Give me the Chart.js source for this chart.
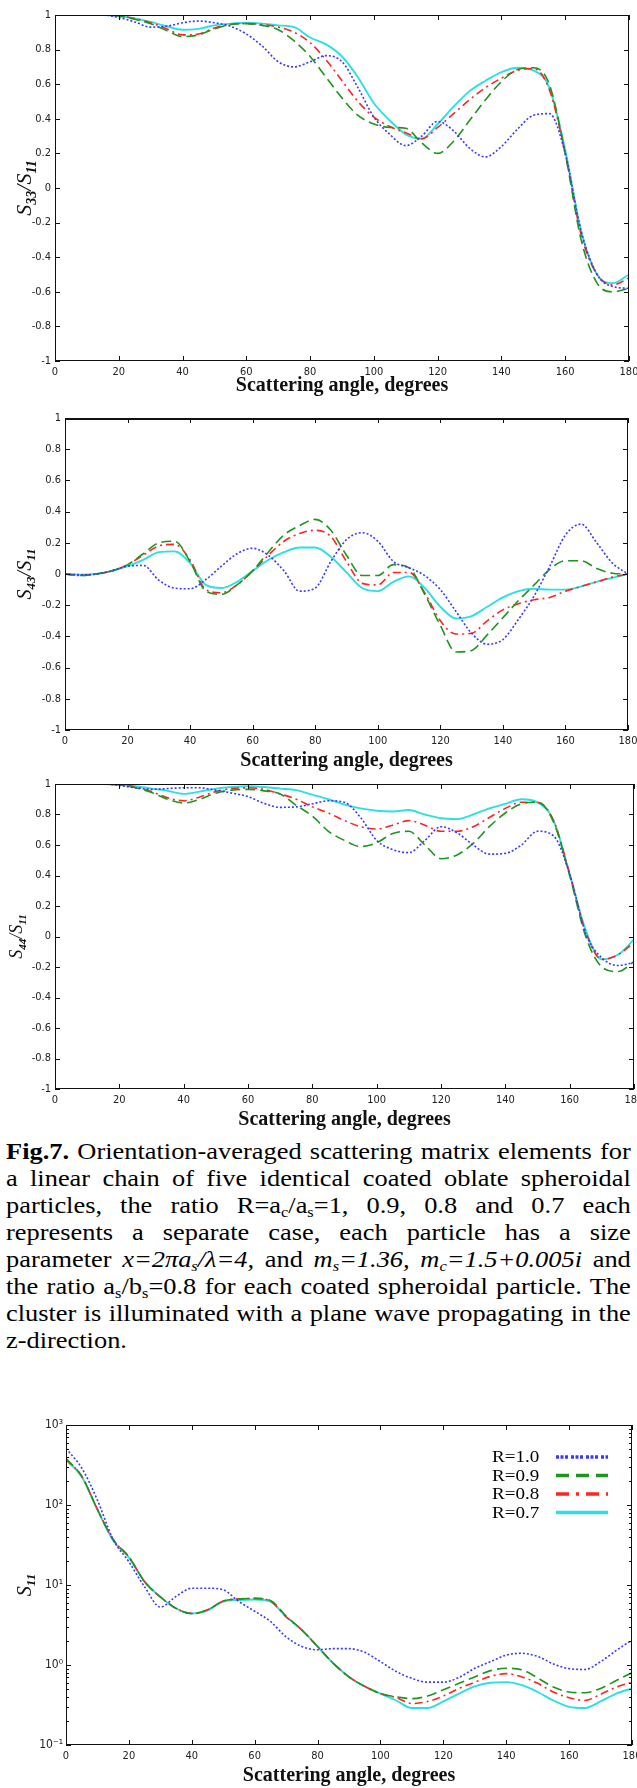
<!DOCTYPE html>
<html>
<head>
<meta charset="utf-8">
<script src="https://cdn.jsdelivr.net/npm/chart.js@4.4.1/dist/chart.umd.min.js"></script>
<style>
body{margin:0;background:#fff;width:637px;height:1788px;overflow:hidden;position:relative}
canvas{position:absolute;left:0}
#caption{position:absolute;left:6px;top:1138px;width:568px;transform:scaleX(1.1);transform-origin:0 0;
  font-family:"Liberation Serif","Times New Roman",serif;font-size:24px;line-height:27px;color:#000}
#caption div{text-align:justify;text-align-last:justify}
#caption div.last{text-align-last:left}
sub{font-size:62%;vertical-align:-0.25em;line-height:0}
</style>
</head>
<body>
<canvas id="c33" width="637" height="398" style="top:0px"></canvas>
<canvas id="c43" width="637" height="375" style="top:398px"></canvas>
<canvas id="c44" width="637" height="357" style="top:775px"></canvas>
<div id="caption">
<div><b>Fig.7.</b> Orientation-averaged scattering matrix elements for</div>
<div>a linear chain of five identical coated oblate spheroidal</div>
<div>particles, the ratio R=a<sub>c</sub>/a<sub>s</sub>=1, 0.9, 0.8 and 0.7 each</div>
<div>represents a separate case, each particle has a size</div>
<div>parameter <i>x=2πa<sub>s</sub>/λ=4,</i> and <i>m<sub>s</sub>=1.36, m<sub>c</sub>=1.5+0.005i</i> and</div>
<div>the ratio a<sub>s</sub>/b<sub>s</sub>=0.8 for each coated spheroidal particle. The</div>
<div>cluster is illuminated with a plane wave propagating in the</div>
<div class="last">z-direction.</div>
</div>
<canvas id="c11" width="637" height="385" style="top:1403px"></canvas>
<script>
// scattering angles (degrees)
var angles = [0,5,10,15,20,25,30,35,40,45,50,55,60,65,70,75,80,85,90,95,100,105,110,115,120,125,130,135,140,145,150,155,160,165,170,175,180];
var seriesLabels = ['R=1.0', 'R=0.9', 'R=0.8', 'R=0.7'];

// S33/S11
var s33_r10 = [1,1,1,1,0.985,0.96,0.93,0.935,0.955,0.965,0.955,0.935,0.89,0.82,0.73,0.70,0.73,0.765,0.73,0.58,0.41,0.31,0.245,0.30,0.385,0.33,0.23,0.18,0.24,0.34,0.42,0.43,0.2,-0.25,-0.5,-0.57,-0.58];
var s33_r09 = [1,1,1,1,0.995,0.975,0.95,0.91,0.875,0.885,0.92,0.945,0.95,0.94,0.915,0.85,0.76,0.64,0.52,0.42,0.37,0.35,0.345,0.26,0.2,0.27,0.39,0.51,0.615,0.685,0.695,0.6,0.2,-0.3,-0.55,-0.6,-0.58];
var s33_r08 = [1,1,1,1,0.995,0.98,0.955,0.92,0.885,0.89,0.925,0.945,0.95,0.945,0.93,0.90,0.84,0.74,0.62,0.50,0.41,0.355,0.32,0.285,0.35,0.43,0.51,0.58,0.635,0.68,0.69,0.57,0.2,-0.27,-0.5,-0.56,-0.52];
var s33_r07 = [1,1,1,1,0.995,0.98,0.96,0.935,0.915,0.92,0.94,0.95,0.955,0.95,0.94,0.93,0.87,0.83,0.76,0.64,0.49,0.39,0.31,0.285,0.37,0.47,0.56,0.62,0.67,0.695,0.68,0.58,0.22,-0.25,-0.5,-0.55,-0.5];

// S43/S11
var s43_r10 = [0,-0.005,0,0.02,0.05,0.055,-0.04,-0.09,-0.095,-0.036,0.05,0.13,0.165,0.12,0.02,-0.11,-0.09,0.08,0.22,0.265,0.21,0.08,0.04,-0.01,-0.1,-0.24,-0.38,-0.45,-0.42,-0.29,-0.14,0.05,0.25,0.32,0.2,0.07,0];
var s43_r09 = [0,-0.01,0,0.02,0.06,0.13,0.2,0.21,0.08,-0.11,-0.13,-0.07,0.02,0.14,0.25,0.31,0.35,0.28,0.12,-0.01,-0.01,0.06,0.04,-0.13,-0.33,-0.5,-0.49,-0.39,-0.28,-0.17,-0.07,0.03,0.085,0.085,0.035,0.005,0];
var s43_r08 = [0,-0.01,0,0.02,0.06,0.12,0.18,0.19,0.09,-0.1,-0.12,-0.07,0.02,0.12,0.21,0.26,0.28,0.24,0.08,-0.06,-0.07,0.01,0.01,-0.12,-0.3,-0.385,-0.38,-0.3,-0.23,-0.19,-0.165,-0.15,-0.11,-0.08,-0.05,-0.02,0];
var s43_r07 = [0,-0.005,0,0.02,0.05,0.09,0.14,0.145,0.07,-0.07,-0.09,-0.05,0.02,0.09,0.14,0.17,0.17,0.11,0.01,-0.09,-0.11,-0.05,-0.015,-0.09,-0.21,-0.285,-0.27,-0.21,-0.15,-0.11,-0.095,-0.1,-0.1,-0.08,-0.05,-0.025,0];

// S44/S11
var s44_r10 = [1,1,1,1,0.99,0.975,0.965,0.97,0.975,0.975,0.96,0.94,0.917,0.873,0.847,0.85,0.87,0.89,0.88,0.78,0.63,0.57,0.55,0.63,0.72,0.68,0.6,0.54,0.545,0.6,0.69,0.66,0.41,0.02,-0.14,-0.19,-0.17];
var s44_r09 = [1,1,1,1,0.995,0.975,0.945,0.9,0.875,0.9,0.94,0.96,0.965,0.955,0.935,0.86,0.79,0.69,0.63,0.59,0.615,0.675,0.69,0.6,0.51,0.535,0.61,0.72,0.81,0.87,0.88,0.75,0.4,0.0,-0.2,-0.23,-0.165];
var s44_r08 = [1,1,1,1,0.995,0.98,0.95,0.91,0.89,0.915,0.95,0.97,0.975,0.965,0.935,0.9,0.85,0.81,0.76,0.72,0.705,0.73,0.76,0.73,0.69,0.69,0.72,0.78,0.84,0.88,0.88,0.76,0.41,0.03,-0.15,-0.12,-0.04];
var s44_r07 = [1,1,1,1,0.995,0.985,0.97,0.955,0.935,0.95,0.97,0.98,0.985,0.98,0.97,0.96,0.93,0.9,0.865,0.84,0.825,0.82,0.83,0.8,0.775,0.77,0.8,0.84,0.87,0.9,0.88,0.76,0.41,0.04,-0.15,-0.12,-0.02];

// S11 (log scale)
var s11_r10 = [510,290,115,37,19.5,9.5,5.3,7.2,9.1,9.1,8.7,6.2,4.7,3.5,2.25,1.7,1.55,1.6,1.6,1.44,1.1,0.83,0.68,0.61,0.61,0.7,0.91,1.1,1.33,1.4,1.28,1.03,0.9,0.88,1.1,1.52,2.05];
var s11_r09 = [380,230,88,37,22.5,11,7.1,5.1,4.4,4.9,6.3,6.7,6.8,6.4,4.1,2.74,1.7,1.05,0.71,0.54,0.44,0.40,0.38,0.41,0.49,0.59,0.71,0.85,0.91,0.87,0.69,0.53,0.46,0.45,0.51,0.64,0.80];
var s11_r08 = [375,228,88,37,22.5,11,7.1,5.1,4.4,4.9,6.3,6.7,6.8,6.3,4.0,2.74,1.7,1.05,0.71,0.54,0.44,0.39,0.33,0.35,0.41,0.51,0.61,0.72,0.78,0.71,0.59,0.46,0.39,0.36,0.43,0.53,0.61];
var s11_r07 = [365,225,87,36,22,11,7.1,5.1,4.4,4.8,6.2,6.5,6.6,6.2,4.0,2.74,1.7,1.05,0.71,0.54,0.44,0.36,0.29,0.29,0.35,0.44,0.54,0.6,0.61,0.56,0.46,0.36,0.30,0.29,0.35,0.44,0.51];

var xTicks = [0,20,40,60,80,100,120,140,160,180];
var s11Ticks = [0.1, 1, 10, 100, 1000];
var s11TickLabels = ['10\u207B\u00B9', '10\u2070', '10\u00B9', '10\u00B2', '10\u00B3'];

var lineColors = ['#3a3aff', '#1e961e', '#ff2424', '#2de0e0'];
var lineDashes = [[2,2], [10,5], [8,4,2,4], []];
var lineWidths = [1.6, 1.6, 1.6, 1.9];

var tickFont = {family: '"Liberation Sans Narrow","DejaVu Sans Condensed","DejaVu Sans",sans-serif', size: 11};
var serif = '"Liberation Serif","Times New Roman",serif';

function makeData(list){
    return list.map(function(vals, i){
        return {
            label: seriesLabels[i],
            data: angles.map(function(a, j){ return {x: a, y: vals[j]}; }),
            borderColor: lineColors[i],
            borderDash: lineDashes[i],
            borderWidth: lineWidths[i],
            pointRadius: 0,
            fill: false,
            cubicInterpolationMode: 'monotone'
        };
    });
}

var framePlugin = {
    id: 'frame',
    afterDatasetsDraw: function(chart, args, opts){
        var ctx = chart.ctx, a = chart.chartArea;
        var xs = chart.scales.x, ys = chart.scales.y;
        var len = 5;
        ctx.save();
        ctx.setLineDash([]);
        ctx.strokeStyle = '#111';
        ctx.lineWidth = 1;
        ctx.strokeRect(a.left + 0.5, a.top + 0.5, a.right - a.left - 1, a.bottom - a.top - 1);
        if (opts.topWidth){
            ctx.lineWidth = opts.topWidth;
            ctx.beginPath(); ctx.moveTo(a.left, a.top + 1); ctx.lineTo(a.right, a.top + 1); ctx.stroke();
            ctx.lineWidth = 1;
        }
        ctx.beginPath();
        xs.ticks.forEach(function(t){
            var px = Math.round(xs.getPixelForValue(t.value)) + 0.5;
            ctx.moveTo(px, a.bottom); ctx.lineTo(px, a.bottom - len);
            ctx.moveTo(px, a.top); ctx.lineTo(px, a.top + len);
        });
        ys.ticks.forEach(function(t){
            var py = Math.round(ys.getPixelForValue(t.value)) + 0.5;
            ctx.moveTo(a.left, py); ctx.lineTo(a.left + len, py);
            ctx.moveTo(a.right, py); ctx.lineTo(a.right - len, py);
        });
        if (opts.minor){
            ys.ticks.forEach(function(t, i){
                if (i === ys.ticks.length - 1) return;
                for (var k = 2; k < 10; k++){
                    var py = Math.round(ys.getPixelForValue(t.value * k)) + 0.5;
                    ctx.moveTo(a.left, py); ctx.lineTo(a.left + 3, py);
                    ctx.moveTo(a.right, py); ctx.lineTo(a.right - 3, py);
                }
            });
        }
        ctx.stroke();
        ctx.restore();
    },
    afterDraw: function(chart, args, opts){
        var ctx = chart.ctx, a = chart.chartArea;
        // y axis title with subscripts
        if (opts.parts){
            var fonts = ['italic ' + opts.size + 'px ' + serif, 'italic bold ' + opts.subSize + 'px ' + serif];
            var total = 0, widths = [];
            opts.parts.forEach(function(p){
                ctx.font = fonts[p[1]];
                var w = ctx.measureText(p[0]).width;
                widths.push(w); total += w;
            });
            ctx.save();
            ctx.translate(opts.x, (a.top + a.bottom) / 2);
            ctx.rotate(-Math.PI / 2);
            ctx.fillStyle = '#111';
            ctx.textBaseline = 'alphabetic';
            var cx = -total / 2, base = opts.size * 0.33;
            opts.parts.forEach(function(p, i){
                ctx.font = fonts[p[1]];
                ctx.fillText(p[0], cx, p[1] ? base + opts.size * 0.22 : base);
                cx += widths[i];
            });
            ctx.restore();
        }
        // legend
        if (opts.legend){
            var L = opts.legend;
            ctx.save();
            chart.data.datasets.forEach(function(ds, i){
                var y = L.y + i * L.dy;
                ctx.save();
                ctx.translate(L.x, y);
                ctx.scale(1.12, 1);
                ctx.font = L.size + 'px ' + serif;
                ctx.fillStyle = '#000';
                ctx.textBaseline = 'middle';
                ctx.fillText(ds.label, 0, 1);
                ctx.restore();
                ctx.strokeStyle = ds.borderColor;
                ctx.lineWidth = 3.5;
                ctx.setLineDash(L.dashes[i]);
                ctx.beginPath(); ctx.moveTo(L.x1, y); ctx.lineTo(L.x2, y); ctx.stroke();
            });
            ctx.restore();
        }
    }
};

function makeChart(id, datasets, cfg){
    var yScale;
    if (cfg.log){
        yScale = {
            type: 'logarithmic', min: s11Ticks[0], max: s11Ticks[s11Ticks.length - 1],
            grid: {display: false, drawTicks: false}, border: {display: false},
            afterBuildTicks: function(s){ s.ticks = s11Ticks.map(function(v){ return {value: v}; }); },
            ticks: {font: {family: tickFont.family, size: 12}, color: '#222', padding: 3, autoSkip: false,
                callback: function(v){ var i = s11Ticks.indexOf(v); return i >= 0 ? s11TickLabels[i] : ''; }},
            afterFit: function(s){ s.width = cfg.yWidth; s.paddingTop = 0; s.paddingBottom = 0; }
        };
    } else {
        yScale = {
            type: 'linear', min: -1, max: 1,
            grid: {display: false, drawTicks: false}, border: {display: false},
            ticks: {stepSize: 0.2, font: tickFont, color: '#222', padding: 4, autoSkip: false,
                callback: function(v){ return String(+v.toFixed(1)); }},
            afterFit: function(s){ s.width = cfg.yWidth; s.paddingTop = 0; s.paddingBottom = 0; }
        };
    }
    return new Chart(document.getElementById(id).getContext('2d'), {
        type: 'line',
        data: {datasets: datasets},
        plugins: [framePlugin],
        options: {
            responsive: false,
            animation: false,
            layout: {padding: {top: cfg.top, right: cfg.right, left: 0, bottom: 0}},
            scales: {
                x: {
                    type: 'linear', min: 0, max: 180,
                    grid: {display: false, drawTicks: false}, border: {display: false},
                    afterBuildTicks: function(s){ s.ticks = xTicks.map(function(v){ return {value: v}; }); },
                    ticks: {font: tickFont, color: '#222', padding: 5, maxRotation: 0, autoSkip: false},
                    title: {display: true, text: 'Scattering angle, degrees', color: '#111',
                        font: {family: serif, size: 20, weight: 'bold'}, padding: {top: 0, bottom: 0}},
                    afterFit: function(s){ s.height = cfg.xHeight; s.paddingLeft = 0; s.paddingRight = 0; }
                },
                y: yScale
            },
            plugins: {
                legend: {display: false},
                tooltip: {enabled: false},
                frame: cfg.frame
            }
        }
    });
}

makeChart('c33', makeData([s33_r10, s33_r09, s33_r08, s33_r07]),
    {top: 15, right: 8, yWidth: 55, xHeight: 37,
     frame: {parts: [['S',0],['33',1],['/S',0],['11',1]], x: 24, size: 22, subSize: 14}});
makeChart('c43', makeData([s43_r10, s43_r09, s43_r08, s43_r07]),
    {top: 20, right: 9, yWidth: 65, xHeight: 43,
     frame: {parts: [['S',0],['43',1],['/S',0],['11',1]], x: 24, size: 20, subSize: 13, topWidth: 2}});
makeChart('c44', makeData([s44_r10, s44_r09, s44_r08, s44_r07]),
    {top: 9, right: 3, yWidth: 55, xHeight: 43,
     frame: {parts: [['S',0],['44',1],['/S',0],['11',1]], x: 16, size: 18, subSize: 11}});
makeChart('c11', makeData([s11_r10, s11_r09, s11_r08, s11_r07]),
    {log: true, top: 22, right: 5, yWidth: 66, xHeight: 43,
     frame: {parts: [['S',0],['11',1]], x: 24, size: 20, subSize: 13, minor: true,
             legend: {x: 492, y: 54, dy: 18.5, size: 17, x1: 556, x2: 608,
                      dashes: [[3,1.5,3,1.5,3,3], [13,7], [13,7,3,7], []]}}});
</script>
</body>
</html>
